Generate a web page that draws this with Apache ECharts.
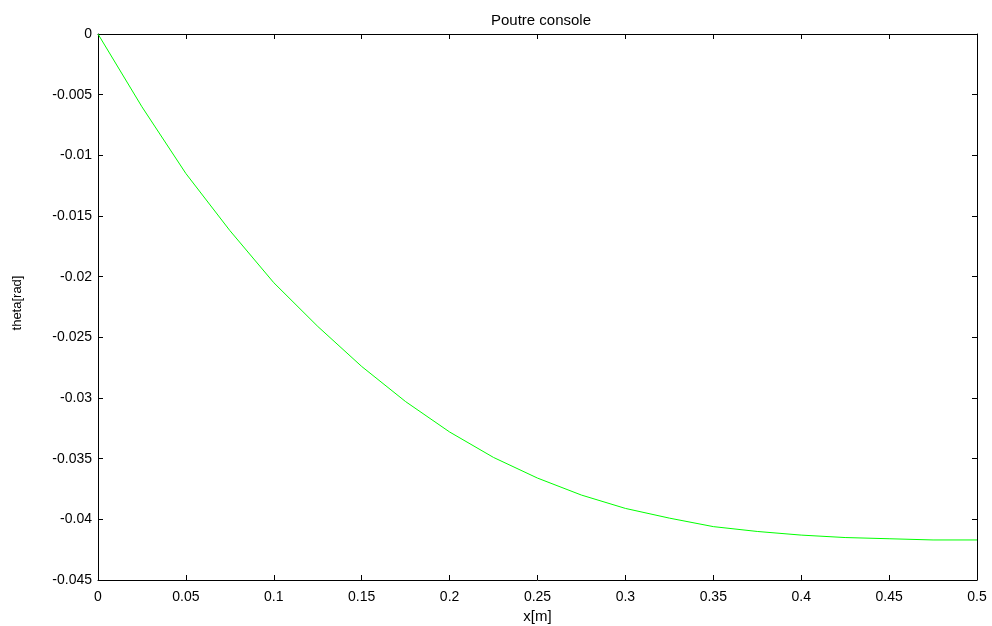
<!DOCTYPE html>
<html>
<head>
  <meta charset="utf-8">
  <title>Poutre console</title>
  <script src="https://cdn.jsdelivr.net/npm/echarts@6.0.0/dist/echarts.min.js"></script>
  <style>
    html, body { margin: 0; padding: 0; background: #fff; }
    #chart { width: 992px; height: 626px; }
  </style>
</head>
<body>
<div id="chart"></div>
<script>
// values
var xPos = [0, 0.025, 0.05, 0.075, 0.1, 0.125, 0.15, 0.175, 0.2, 0.225, 0.25,
            0.275, 0.3, 0.325, 0.35, 0.375, 0.4, 0.425, 0.45, 0.475, 0.5];
var theta = [0, -0.0060, -0.0115, -0.0162, -0.0205, -0.0241, -0.0274, -0.0303, -0.0328, -0.0349, -0.0366,
             -0.0380, -0.0391, -0.0399, -0.0406, -0.0410, -0.0413, -0.0415, -0.0416, -0.0417, -0.0417];

var font = "Liberation Sans, Arial, sans-serif";

function fmt(v) {
    return String(parseFloat(v.toFixed(4)));
}

var myChart = echarts.init(document.getElementById("chart"));
var axisLine = { show: true, onZero: false, lineStyle: { color: "#000", width: 1 } };
var tick = { show: true, inside: true, length: 5, lineStyle: { color: "#000" } };

var option = {
    animation: false,
    backgroundColor: "#fff",
    title: {
        text: "Poutre console",
        left: 536,
        textAlign: "center",
        top: 8,
        textStyle: { fontFamily: font, fontSize: 15, fontWeight: "normal", color: "#000" }
    },
    grid: { left: 98, right: 15, top: 34, bottom: 46, containLabel: false, outerBoundsMode: "none" },
    xAxis: [{
        type: "value",
        min: 0,
        max: 0.5,
        interval: 0.05,
        position: "bottom",
        name: "x[m]",
        nameLocation: "middle",
        nameGap: 29,
        nameTextStyle: { fontFamily: font, fontSize: 15, color: "#000" },
        axisLine: axisLine,
        axisTick: tick,
        splitLine: { show: false },
        axisLabel: { fontFamily: font, fontSize: 14, color: "#000", margin: 10, formatter: fmt }
    }, {
        type: "value",
        min: 0,
        max: 0.5,
        interval: 0.05,
        position: "top",
        axisLine: axisLine,
        axisTick: tick,
        splitLine: { show: false },
        axisLabel: { show: false }
    }],
    yAxis: [{
        type: "value",
        min: -0.045,
        max: 0,
        interval: 0.005,
        position: "left",
        name: "theta[rad]",
        nameLocation: "middle",
        nameGap: 74,
        nameRotate: 90,
        nameTextStyle: { fontFamily: font, fontSize: 13, color: "#000", padding: [0, 0, 0, 8] },
        axisLine: axisLine,
        axisTick: tick,
        splitLine: { show: false },
        axisLabel: { fontFamily: font, fontSize: 14, color: "#000", margin: 6, formatter: fmt }
    }, {
        type: "value",
        min: -0.045,
        max: 0,
        interval: 0.005,
        position: "right",
        axisLine: axisLine,
        axisTick: tick,
        splitLine: { show: false },
        axisLabel: { show: false }
    }],
    series: [{
        type: "line",
        data: xPos.map(function(x, i) { return [x, theta[i]]; }),
        showSymbol: false,
        smooth: false,
        lineStyle: { color: "#00ff00", width: 1 },
        itemStyle: { color: "#00ff00" }
    }]
};
myChart.setOption(option);
</script>
</body>
</html>
